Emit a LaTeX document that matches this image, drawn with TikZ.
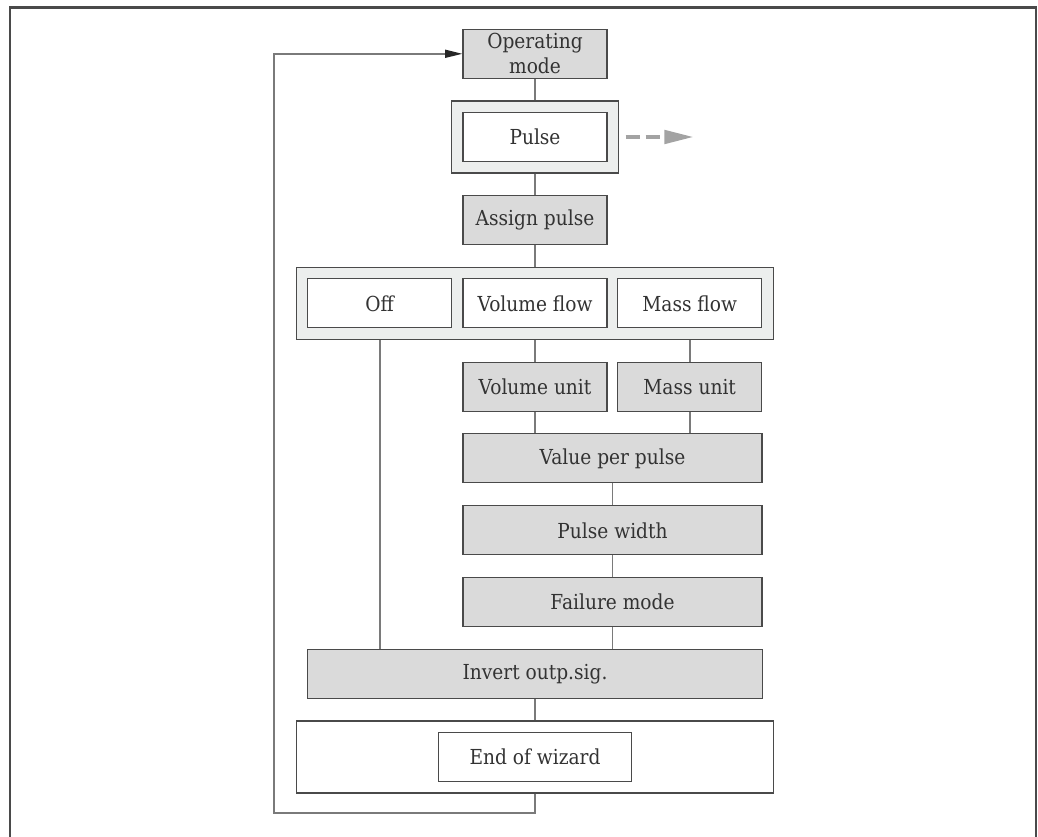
\documentclass[tikz,border=0pt]{standalone}
\usepackage{fontspec}
\setmainfont{DejaVu Serif}[FakeStretch=0.9]
\usetikzlibrary{arrows.meta}
\definecolor{wizink}{HTML}{333333}
\definecolor{wizline}{HTML}{4A4A4A}
\definecolor{wizlink}{HTML}{7A7A7A}
\definecolor{wizfill}{HTML}{DADADA}
\definecolor{wizgroup}{HTML}{ECEEED}
\definecolor{wizdash}{HTML}{A3A3A3}

\tikzset{
  param/.style={draw=wizline,fill=wizfill,line width=.9pt,inner sep=0pt,
    minimum width=108pt,minimum height=36.75pt,text=wizink,
    font=\fontsize{15.5}{18.5}\selectfont,align=center},
  choice/.style={param,fill=white},
  group/.style={draw=wizline,fill=wizgroup,line width=.9pt,
    minimum height=54pt,inner sep=0pt},
  link/.style={draw=wizlink,line width=1.2pt}
}

\begin{document}
\begin{tikzpicture}[x=.75pt,y=-.75pt]
    \useasboundingbox (0,0) rectangle (1038,837);
    \draw[wizline,line width=1.6pt] (10,845) |- (1036,7.5) -- (1036,845);
    % wizard steps
    \node[param] (opmode) at (535,53.8) {Operating\\mode};
    \node[group,minimum width=125pt] (pulsegrp) at (535,137) {};
    \node[choice] (pulse) at (pulsegrp) {Pulse};
    \node[param] (assign) at (535,220) {Assign pulse};
    \node[group,minimum width=357.75pt] (optgrp) at (535,303.2) {};
    \node[choice] (off) at (379.7,303.3) {Off};
    \node[choice] (volflow) at (535,303.3) {Volume flow};
    \node[choice] (massflow) at (689.7,303.3) {Mass flow};
    \node[param] (volunit) at (535,386.7) {Volume unit};
    \node[param] (massunit) at (689.7,386.7) {Mass unit};
    \node[param,minimum width=224.25pt] (valpp) at (612.5,458.3) {Value per pulse};
    \node[param,minimum width=224.25pt] (pwidth) at (612.5,530.3) {Pulse width};
    \node[param,minimum width=224.25pt] (failure) at (612.5,602) {Failure mode};
    \node[param,minimum width=340.7pt] (invert) at (535,673.8) {Invert outp.sig.};
    \node[group,fill=white,minimum width=357.75pt] (endgrp) at (535,757) {};
    \node[choice,minimum width=145pt] (endwiz) at (535,757.2) {End of wizard};
    \coordinate (ret) at (535,812.7);
    \coordinate (back) at (274,812.7);
    % connectors
    \draw[link] (opmode) -- (pulsegrp);
    \draw[link] (pulsegrp) -- (assign);
    \draw[link] (assign) -- (optgrp);
    \draw[link] (volflow |- optgrp.south) -- (volunit);
    \draw[link] (massflow |- optgrp.south) -- (massunit);
    \draw[link] (volunit) -- (volunit |- valpp.north);
    \draw[link] (massunit) -- (massunit |- valpp.north);
    \draw[link] (valpp) -- (pwidth);
    \draw[link] (pwidth) -- (failure);
    \draw[link] (failure) -- (failure |- invert.north);
    \draw[link] (off |- optgrp.south) -- (off |- invert.north);
    \draw[link] (invert) -- (endgrp);
    \draw[link,-{Triangle[length=13pt,width=6pt,color=black!85]}]
      (endgrp.south) -- (ret) -- (back) |- (opmode.west);
    \draw[wizdash,line width=3pt,dash pattern=on 11pt off 4pt,
      -{Triangle[length=22pt,width=10pt]}]
      ([xshift=5pt]pulsegrp.east) -- ++(51pt,0);
\end{tikzpicture}
\end{document}
